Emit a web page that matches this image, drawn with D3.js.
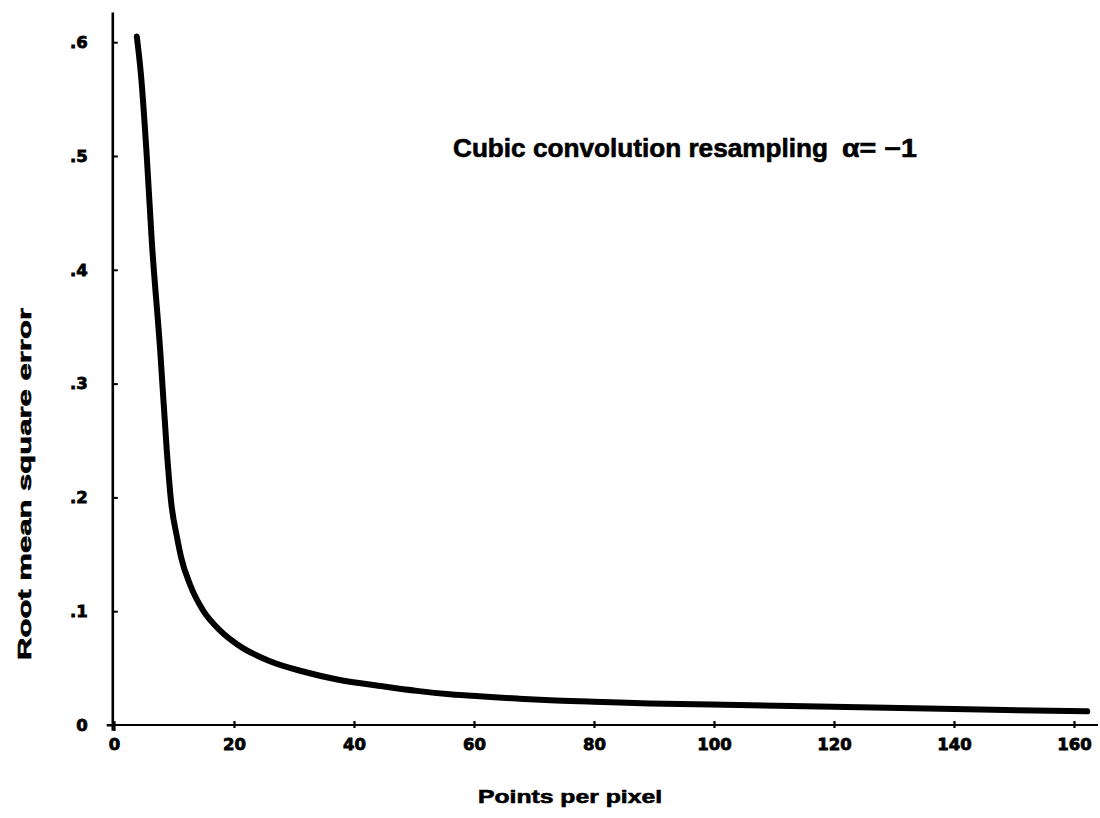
<!DOCTYPE html>
<html>
<head>
<meta charset="utf-8">
<script src="https://cdn.jsdelivr.net/npm/d3@7/dist/d3.min.js"></script>
<style>
  html, body { margin: 0; padding: 0; background: #fff; }
  svg { display: block; }
  text { font-family: "Liberation Sans", Arial, Helvetica, sans-serif; font-weight: bold; fill: #000;
         stroke: #000; stroke-width: 0.6px; }
  .tick text { font-family: "DejaVu Sans", "Liberation Sans", sans-serif; stroke-width: 0.8px; }
</style>
</head>
<body>
<svg id="chart" width="1100" height="818"></svg>
<script>
// Points per pixel (x) and RMS error (y) for cubic convolution, a = -1
const pointsPerPixel = [3.8, 4.5, 5.4, 6.3, 7.7, 8.8, 9.5, 10.5, 11.2, 12.7, 14.8, 17.7,
  20.5, 26.0, 31.5, 37.2, 44.8, 50.5, 56, 61.5, 67.2, 72.7, 80, 89.3, 104, 119.8, 140, 162.2];
const rmsError = [0.605, 0.571, 0.505, 0.425, 0.329, 0.241, 0.197, 0.165, 0.147, 0.123, 0.101, 0.083,
  0.071, 0.056, 0.047, 0.040, 0.034, 0.030, 0.027, 0.025, 0.0232, 0.0217, 0.0205, 0.019, 0.0175, 0.016, 0.014, 0.012];

const xTicks = [0, 20, 40, 60, 80, 100, 120, 140, 160];
const yTicks = [0, 0.1, 0.2, 0.3, 0.4, 0.5, 0.6];

const titleText = "Cubic convolution resampling";
const paramText = "\u03B1= \u22121";
const xLabel = "Points per pixel";
const yLabel = "Root mean square error";

const svg = d3.select("#chart");

const x = d3.scaleLinear().domain([0, 160]).range([114, 1074]);
const y = d3.scaleLinear().domain([0, 0.6]).range([725, 42.2]);

// axis lines, running a little past the tick range
svg.append("line")
  .attr("x1", x(-1.2)).attr("x2", x(164))
  .attr("y1", y(0)).attr("y2", y(0))
  .attr("stroke", "#000").attr("stroke-width", 2.2);
svg.append("line")
  .attr("x1", x(-0.2)).attr("x2", x(-0.2))
  .attr("y1", y(-0.005)).attr("y2", y(0.626))
  .attr("stroke", "#000").attr("stroke-width", 2.6);

// x axis ticks and labels
const xAxis = d3.axisBottom(x).tickValues(xTicks).tickSize(0).tickPadding(0).tickFormat(d3.format("d"));
const gx = svg.append("g").attr("transform", `translate(0,${y(0)})`).call(xAxis);
gx.select(".domain").remove();
gx.attr("font-family", null).attr("font-size", null);
gx.selectAll(".tick line").attr("y1", -4).attr("y2", 3).attr("stroke", "#000").attr("stroke-width", 2.2);
gx.selectAll(".tick text")
  .attr("y", 25).attr("dy", null)
  .style("font-size", "16.5px");
gx.selectAll(".tick").filter(d => d === 0).select("line").attr("y2", 6);

// y axis ticks and labels
const yAxis = d3.axisLeft(y).tickValues(yTicks).tickSizeInner(-5).tickSizeOuter(0).tickPadding(25)
  .tickFormat(d => d === 0 ? "0" : d3.format(".1f")(d).replace(/^0/, ""));
const gy = svg.append("g").attr("transform", `translate(${x(-0.2)},0)`).call(yAxis);
gy.select(".domain").remove();
gy.attr("font-family", null).attr("font-size", null);
gy.selectAll(".tick line").attr("stroke", "#000").attr("stroke-width", 2);
gy.selectAll(".tick text").style("font-size", "16.5px");
gy.selectAll(".tick").filter(d => d === 0).select("line").attr("x2", -6);

// error curve
const pts = pointsPerPixel.map((v, i) => [v, rmsError[i]]);
const line = d3.line().x(d => x(d[0])).y(d => y(d[1])).curve(d3.curveMonotoneX);
svg.append("path")
  .datum(pts)
  .attr("d", line)
  .attr("fill", "none")
  .attr("stroke", "#000")
  .attr("stroke-width", 6)
  .attr("stroke-linecap", "round")
  .attr("stroke-linejoin", "round");

// title
svg.append("text")
  .attr("x", 453).attr("y", 157)
  .attr("textLength", 375).attr("lengthAdjust", "spacingAndGlyphs")
  .style("font-size", "25px")
  .text(titleText);
svg.append("text")
  .attr("x", 842).attr("y", 157)
  .attr("textLength", 75).attr("lengthAdjust", "spacingAndGlyphs")
  .style("font-size", "25px")
  .text(paramText);

// axis titles
svg.append("text")
  .attr("x", 478).attr("y", 803)
  .attr("textLength", 184).attr("lengthAdjust", "spacingAndGlyphs")
  .style("font-size", "19px")
  .text(xLabel);

svg.append("text")
  .attr("transform", "translate(31,660) rotate(-90)")
  .attr("textLength", 352).attr("lengthAdjust", "spacingAndGlyphs")
  .style("font-size", "19px")
  .text(yLabel);
</script>
</body>
</html>
